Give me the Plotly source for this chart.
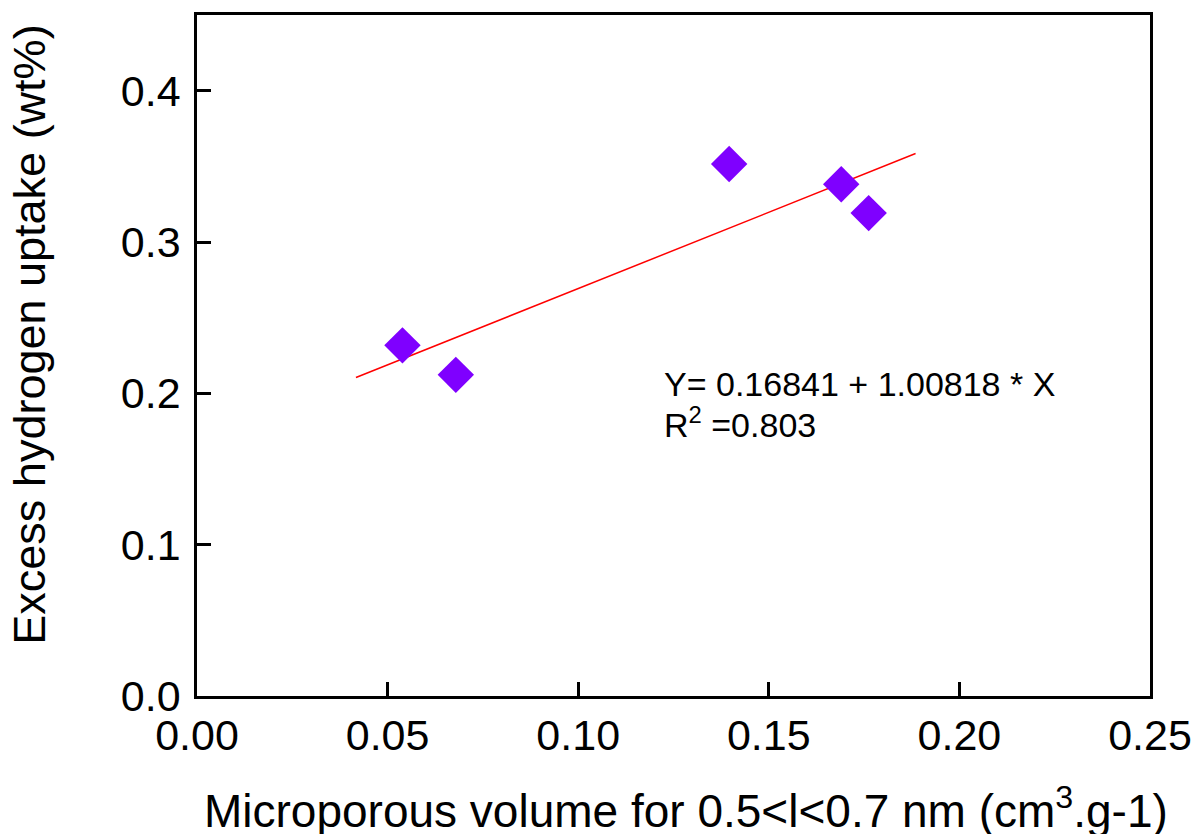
import plotly.graph_objects as go

# Data
micro_volume = [0.0539, 0.0679, 0.1396, 0.1690, 0.1762]
h2_uptake = [0.2317, 0.2122, 0.3515, 0.3382, 0.3191]

# Linear fit as given on the chart
fit_intercept = 0.16841
fit_slope = 1.00818
fit_x_range = [0.0417, 0.1885]
fit_y = [fit_intercept + fit_slope * x for x in fit_x_range]

x_ticks = [0.00, 0.05, 0.10, 0.15, 0.20, 0.25]
y_ticks = [0.0, 0.1, 0.2, 0.3, 0.4]

FONT = "Liberation Sans, Arial, sans-serif"

fig = go.Figure()
fig.add_trace(go.Scatter(
    x=fit_x_range, y=fit_y, mode="lines",
    line=dict(color="#FF0000", width=1.5),
    showlegend=False, hoverinfo="skip",
))
fig.add_trace(go.Scatter(
    x=micro_volume, y=h2_uptake, mode="markers",
    marker=dict(symbol="diamond", size=28, color="#7F00FF", line=dict(width=0)),
    showlegend=False,
))

axis_common = dict(
    showline=True, linecolor="black", linewidth=2.5, mirror=True,
    ticks="inside", ticklen=14, tickwidth=2.5, tickcolor="black",
    showgrid=False, zeroline=False,
    tickfont=dict(family=FONT, size=43, color="black"),
)

fig.update_xaxes(range=[0, 0.25], tickvals=x_ticks,
                 ticktext=[f"{v:.2f}" for v in x_ticks], **axis_common)
fig.update_yaxes(range=[0, 0.45], tickvals=y_ticks,
                 ticktext=[f"{v:.1f}" for v in y_ticks],
                 ticklabelstandoff=5, **axis_common)

fig.update_layout(
    width=1196, height=826,
    margin=dict(l=189, r=54, t=7, b=137.5, autoexpand=False),
    plot_bgcolor="white", paper_bgcolor="white",
    font=dict(family=FONT, color="black"),
    annotations=[
        dict(text="Excess hydrogen uptake (wt%)", textangle=-90,
             xref="paper", yref="paper", x=-0.1753, y=0.5305,
             xanchor="center", yanchor="middle", showarrow=False,
             font=dict(family=FONT, size=45, color="black")),
        dict(text="Microporous volume for 0.5<l<0.7 nm (cm<sup>3</sup>.g-1)",
             xref="paper", yref="paper", x=0.5132, y=-0.164,
             xanchor="center", yanchor="middle", showarrow=False,
             font=dict(family=FONT, size=46, color="black")),
        dict(text=f"Y= {fit_intercept:.5f} + {fit_slope:.5f} * X",
             xref="paper", yref="paper", x=0.4875, y=0.4585,
             xanchor="left", yanchor="middle", showarrow=False,
             font=dict(family=FONT, size=34, color="black")),
        dict(text="R<sup>2</sup> =0.803",
             xref="paper", yref="paper", x=0.4875, y=0.4015,
             xanchor="left", yanchor="middle", showarrow=False,
             font=dict(family=FONT, size=34, color="black")),
    ],
)

fig.write_html("out.html")
